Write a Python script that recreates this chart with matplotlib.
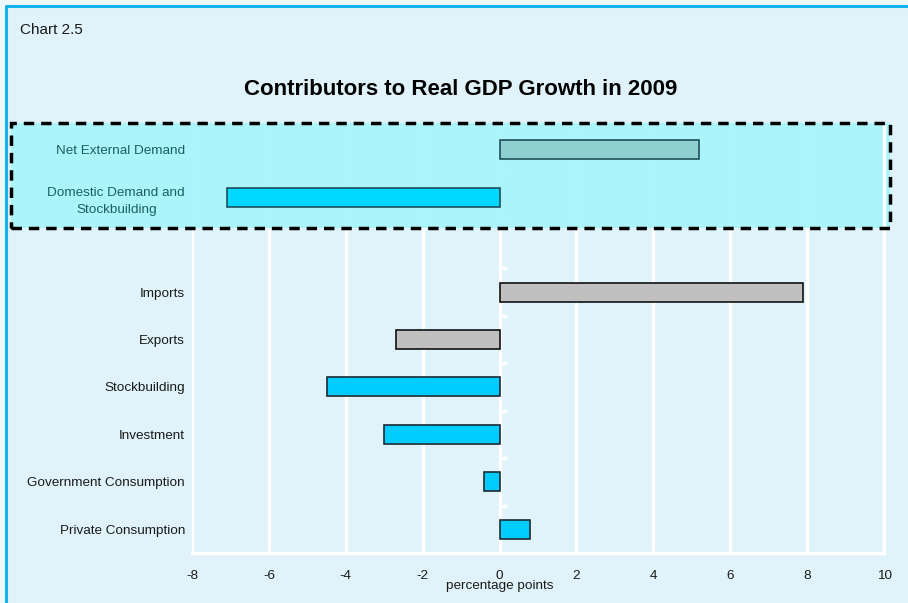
import matplotlib.pyplot as plt
import numpy as np
from matplotlib.lines import Line2D
from matplotlib.patches import Rectangle
from matplotlib.transforms import blended_transform_factory

plt.rcParams["font.family"] = ["Liberation Sans", "DejaVu Sans"]
plt.rcParams["axes.unicode_minus"] = False

# contributions to real GDP growth, percentage points (bottom to top, "" = gap)
categories = [
    "Private Consumption",
    "Government Consumption",
    "Investment",
    "Stockbuilding",
    "Exports",
    "Imports",
    "",
    "Domestic Demand and\nStockbuilding",
    "Net External Demand",
]
values = [0.8, -0.4, -3.0, -4.5, -2.7, 7.9, np.nan, -7.1, 5.2]
fills = ["#00CCFF", "#00CCFF", "#00CCFF", "#00CCFF", "#C0C0C0", "#C0C0C0",
         "none", "#00D8FF", "#8ECFCF"]
edges = ["#1C2B33", "#1C2B33", "#1C2B33", "#1C2B33", "#111111", "#111111",
         "none", "#1F4F5A", "#1F4F5A"]
label_colors = ["#1a1a1a"] * 7 + ["#1F5F5F", "#1F5F5F"]

bg = "#E0F3FA"
fig = plt.figure(figsize=(9.08, 6.03), dpi=100, facecolor="#EEF8FB")
fig.add_artist(Rectangle((0.0066, 0), 1, 0.990, transform=fig.transFigure,
                         facecolor=bg, edgecolor="none", zorder=-2))
# frame line on the top and left edges
fig.add_artist(Line2D([0.0066, 0.0066, 1], [0, 0.990, 0.990],
                      transform=fig.transFigure, color="#12B2EE", lw=2.2,
                      zorder=-1))

ax = fig.add_axes([0.2115, 0.0829, 0.7621, 0.7081])
ax.set_facecolor(bg)
ypos = np.arange(len(categories))
ax.barh(ypos, values, height=0.4, color=fills, edgecolor=edges,
        linewidth=1.2, zorder=4)

ax.set_xlim(-8, 10)
ax.set_ylim(-0.5, 8.5)
ax.set_xticks(np.arange(-8, 11, 2))
ax.grid(axis="x", color="white", lw=2.5, zorder=1)
ax.set_axisbelow(True)
for side in ["top", "left"]:
    ax.spines[side].set_visible(False)
for side in ["bottom", "right"]:
    ax.spines[side].set_color("white")
    ax.spines[side].set_linewidth(2.5)
ax.tick_params(axis="x", length=0, labelsize=9.7, pad=12, labelcolor="#1a1a1a")

ax.set_yticks(ypos)
ax.set_yticklabels(categories, fontsize=9.7, multialignment="center",
                   linespacing=1.55)
for lab, c in zip(ax.get_yticklabels(), label_colors):
    lab.set_color(c)
ax.tick_params(axis="y", length=0, pad=5)
ax.yaxis.set_zorder(6)

# white boundary ticks along the zero line
zero_ax = ax.secondary_yaxis(8 / 18)
zero_ax.spines["left"].set_visible(False)
zero_ax.set_yticks(np.arange(0.5, 8, 1))
zero_ax.set_yticklabels([])
zero_ax.tick_params(axis="y", direction="in", length=5, width=2.5, color="white")

ax.set_xlabel("percentage points", fontsize=9.7, color="#1a1a1a")
ax.xaxis.set_label_coords(8 / 18, -0.063)

# highlighted aggregate block
trans = blended_transform_factory(fig.transFigure, ax.transData)
ax.add_patch(Rectangle((0.012, 6.36), 0.968, 2.21, transform=trans,
                       facecolor="#A6F5FA", alpha=0.93, edgecolor="none",
                       zorder=2, clip_on=False))
ax.add_patch(Rectangle((0.012, 6.36), 0.968, 2.21, transform=trans,
                       facecolor="none", edgecolor="black", lw=2.5,
                       linestyle=(0, (3, 2)), zorder=5, clip_on=False))

fig.text(0.022, 0.951, "Chart 2.5", fontsize=11, color="#1a1a1a",
         va="center", ha="left")
fig.text(0.507, 0.852, "Contributors to Real GDP Growth in 2009",
         fontsize=16, fontweight="bold", color="black", ha="center", va="center")

fig.savefig("out.png", dpi=100, facecolor=fig.get_facecolor())
